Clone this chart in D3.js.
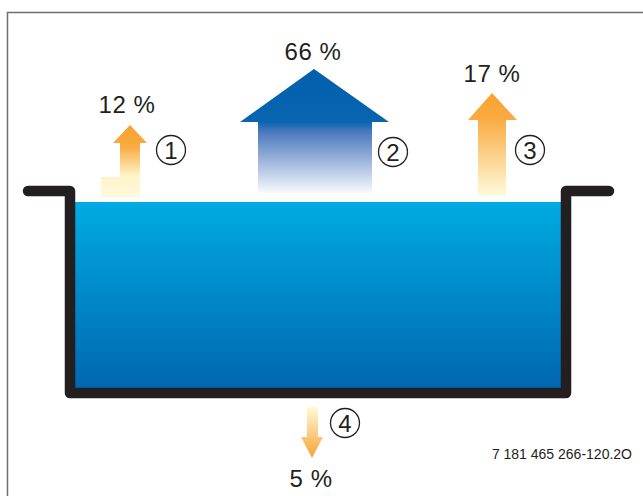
<!DOCTYPE html>
<html>
<head>
<meta charset="utf-8">
<script src="https://cdn.jsdelivr.net/npm/d3@7"></script>
<style>
  body { margin: 0; background: #fff; }
  text { font-family: "Liberation Sans", Arial, sans-serif; fill: #231f20; }
</style>
</head>
<body>
<div class="canvas"></div>
<script>
// heat loss shares of a pool (percent)
const lossNumbers = [1, 2, 3, 4]
const lossShares = [12, 66, 17, 5]
const lossLabels = ['12 %', '66 %', '17 %', '5 %']
const docCode = '7 181 465 266-120.2O'

const width = 643, height = 496

const svg = d3.select('.canvas')
  .append('svg')
  .attr('width', width)
  .attr('height', height)

// frame
svg.append('path')
  .attr('d', `M7.5,${height + 5} V12.5 H${width + 5}`)
  .attr('fill', 'none')
  .attr('stroke', '#6d6e71')
  .attr('stroke-width', 1.5)

const defs = svg.append('defs')
const grad = (id, stops) => {
  const g = defs.append('linearGradient')
    .attr('id', id)
    .attr('x1', 0).attr('y1', 0).attr('x2', 0).attr('y2', 1)
  g.selectAll('stop').data(stops).enter().append('stop')
    .attr('offset', d => d[0])
    .attr('stop-color', d => d[1])
}
grad('water', [[0, '#00abe3'], [1, '#0065ae']])
grad('warm1', [[0, '#f7a22f'], [0.3, '#f9ab40'], [0.7, '#fff3c8'], [1, '#fffadc']])
grad('warm3', [[0, '#f7a22f'], [0.25, '#f9ab42'], [1, '#fffadb']])
grad('warm4', [[0, '#fffad8'], [1, '#f8a232']])
grad('blue2', [[0, '#005fac'], [0.43, '#0a65b0'], [0.5, '#4877bd'], [1, '#f8f9fd']])

// pool
const pool = {left: 70, right: 566, top: 191, bottom: 393, waterTop: 202, lipL: 28, lipR: 609}
svg.append('rect')
  .attr('x', pool.left + 5)
  .attr('y', pool.waterTop)
  .attr('width', pool.right - pool.left - 10)
  .attr('height', pool.bottom - pool.waterTop)
  .attr('fill', 'url(#water)')

svg.append('path')
  .attr('d', `M${pool.lipL},${pool.top} H${pool.left} V${pool.bottom} H${pool.right} V${pool.top} H${pool.lipR}`)
  .attr('fill', 'none')
  .attr('stroke', '#231f20')
  .attr('stroke-width', 10.5)
  .attr('stroke-linecap', 'round')
  .attr('stroke-linejoin', 'round')

// arrow layout per loss
const arrows = [
  {fill: 'url(#warm1)', label: [127, 113], circle: [171, 150],
    d: 'M130,125 L147,143 H140 V197 H101 V177 H120 V143 H113 Z'},
  {fill: 'url(#blue2)', label: [313, 60], circle: [393, 152],
    d: 'M314,69 L389,122 H372 V193 H258 V122 H240 Z'},
  {fill: 'url(#warm3)', label: [492, 82], circle: [530, 150],
    d: 'M492,93 L517,120 H506 V196 H478 V120 H468 Z'},
  {fill: 'url(#warm4)', label: [311, 487], circle: [345, 423],
    d: 'M307,407 H318 V437 H323 L312,458 L301,437 H307 Z'}
]

const g = svg.selectAll('g.loss')
  .data(lossNumbers)
  .enter()
  .append('g')
  .attr('class', 'loss')

g.append('path')
  .attr('d', (d, i) => arrows[i].d)
  .attr('fill', (d, i) => arrows[i].fill)

g.append('text')
  .attr('x', (d, i) => arrows[i].label[0])
  .attr('y', (d, i) => arrows[i].label[1])
  .attr('text-anchor', 'middle')
  .style('font-size', '24px')
  .style('letter-spacing', '0.6px')
  .text((d, i) => lossLabels[i])

g.append('circle')
  .attr('cx', (d, i) => arrows[i].circle[0])
  .attr('cy', (d, i) => arrows[i].circle[1])
  .attr('r', 14.5)
  .attr('fill', 'none')
  .attr('stroke', '#231f20')
  .attr('stroke-width', 1.3)

g.append('text')
  .attr('x', (d, i) => arrows[i].circle[0])
  .attr('y', (d, i) => arrows[i].circle[1] + 8.5)
  .attr('text-anchor', 'middle')
  .style('font-size', '24px')
  .text(d => d)

svg.append('text')
  .attr('x', 632)
  .attr('y', 459)
  .attr('text-anchor', 'end')
  .style('font-size', '14px')
  .text(docCode)
</script>
</body>
</html>
